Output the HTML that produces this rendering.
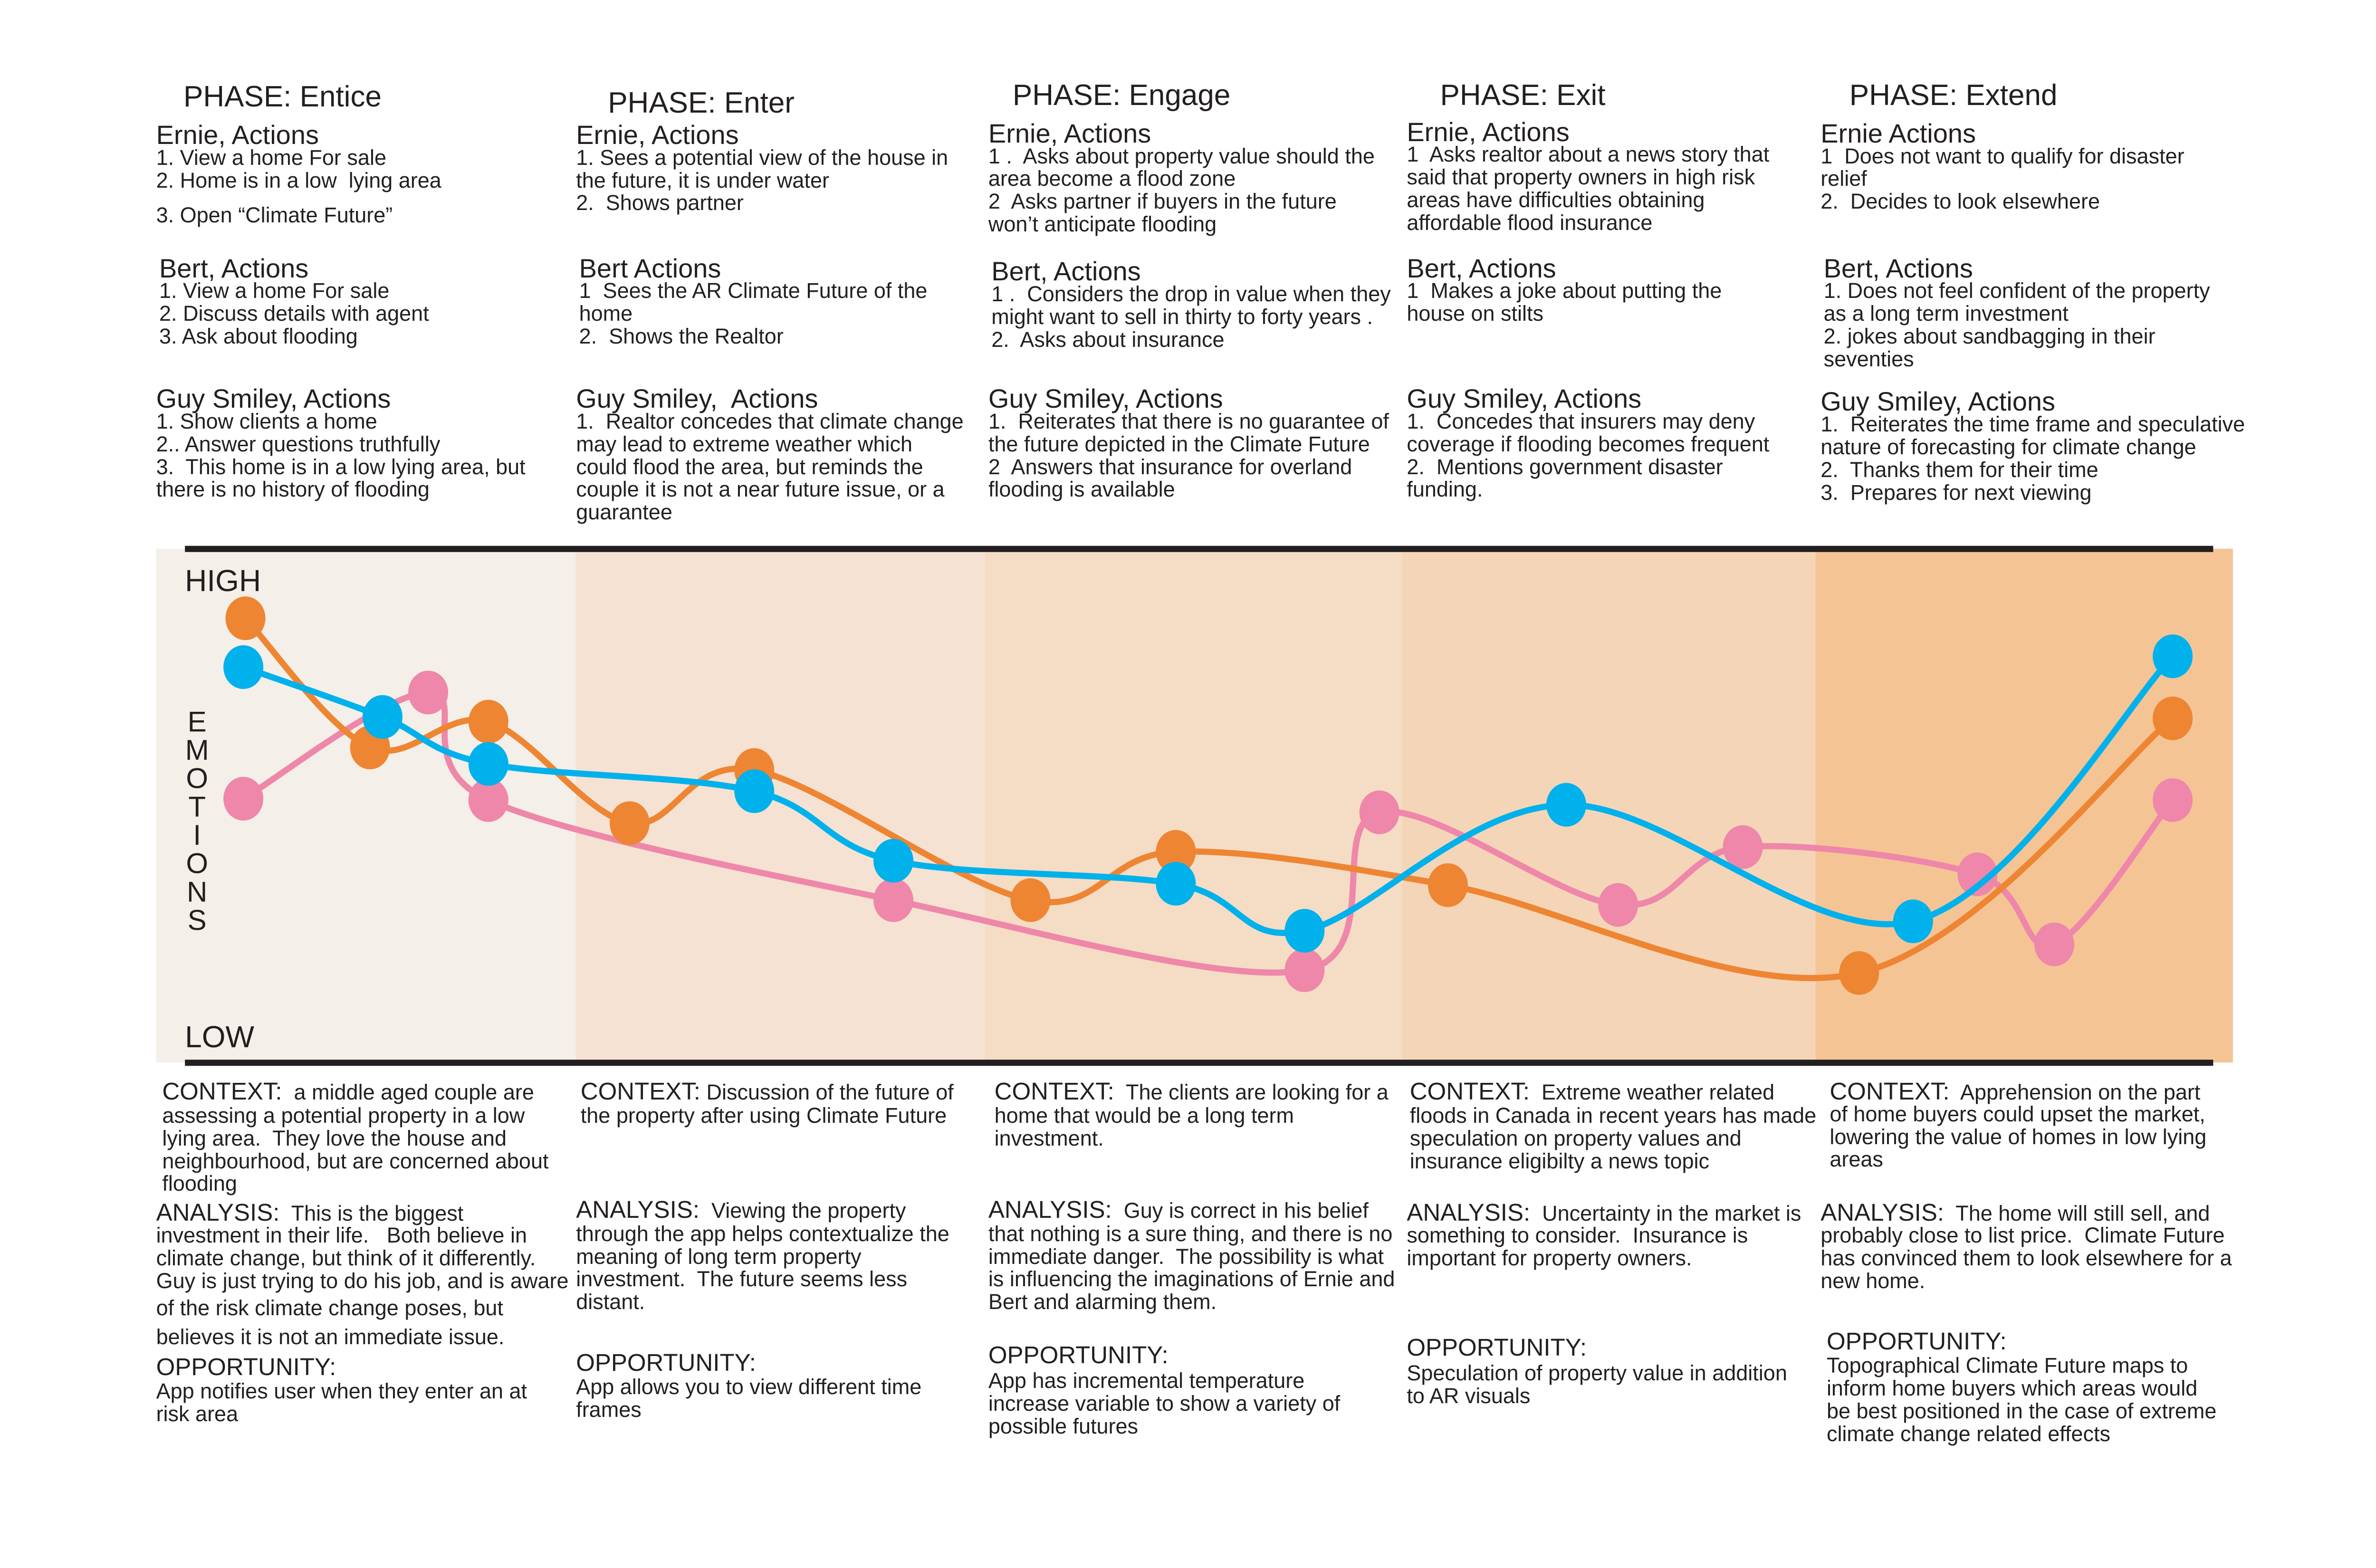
<!DOCTYPE html>
<html><head><meta charset="utf-8">
<style>
html,body{margin:0;padding:0;background:#fff;}
#page{position:relative;width:5100px;height:3300px;overflow:hidden;background:#fff;font-family:"Liberation Sans",sans-serif;color:#231f20;}
.t{position:absolute;white-space:pre;line-height:50px;height:50px;}
.ph{font-size:62px;}
.hd{font-size:56px;}
.bd{font-size:45px;}
.bb{font-size:45px;}
.bb span{font-size:51px;}
svg{position:absolute;left:0;top:0;}
</style></head>
<body>
<div id="page">
<svg id="chart" width="5100" height="3300"></svg>
</div>
<script>
// ---------- chart data ----------
const seriesNames = ["ernie", "bert", "guy"];
const blueT   = [4.2, 10.9, 16, 28.8, 35.5, 49.1, 55.3, 67.9, 84.6, 97.1];
const blueV   = [80.6, 70, 60, 54.2, 39.4, 34.5, 24.5, 51.3, 26.5, 82.9];
const orangeT = [4.3, 10.3, 16, 22.8, 28.8, 42.1, 49.1, 62.2, 82, 97.1];
const orangeV = [91, 63.5, 69, 47.4, 58.7, 31, 41.3, 34.2, 15.5, 69.7];
const pinkT   = [4.2, 13.1, 16, 35.5, 55.3, 58.9, 70.4, 76.4, 87.7, 91.4, 97.1];
const pinkV   = [52.6, 75.2, 52.3, 31, 16.1, 49.7, 30, 42.3, 36.5, 21.6, 52.3];
const phaseBounds = [0, 20.2, 39.9, 60, 79.9, 100];
const phaseColors = ["#f4efe8", "#f5e2d2", "#f5dcc4", "#f5d5b7", "#f5c495"];
const emotionLetters = ["E","M","O","T","I","O","N","S"];

const S = 3.19;
const X0 = 103*S, X1 = 1473*S;
const xScale = t => X0 + (X1 - X0) * t / 100;
const yScale = v => 690*S - (310*S) * v / 100;

const svg = document.getElementById('chart');
const NS = "http://www.w3.org/2000/svg";
function mk(tag, attrs){ const e=document.createElementNS(NS,tag); for(const k in attrs) e.setAttribute(k,attrs[k]); return e; }

// bands
for(let i=0;i<phaseColors.length;i++){
  const r = mk('rect',{x:xScale(phaseBounds[i]),y:362*S,width:xScale(phaseBounds[i+1])-xScale(phaseBounds[i]),height:339*S,fill:phaseColors[i]});
  
  
  svg.appendChild(r);
}
// axis lines
const topLine = mk('rect',{x:122*S,y:362*S-6,width:1338*S,height:13,fill:'#231f20'});


svg.appendChild(topLine);
const botLine = mk('rect',{x:122*S,y:701*S-6,width:1338*S,height:13,fill:'#231f20'});


svg.appendChild(botLine);

// axis labels
function svgText(x,y,txt,size,name){
  const e = mk('text',{x:x,y:y,'font-size':size,'font-family':'Liberation Sans, sans-serif',fill:'#231f20'});
  e.textContent = txt;
  
  
  svg.appendChild(e);
  return e;
}
svgText(122*S, 383*S+22, "HIGH", 64, 'y-axis-high-label');
svgText(122*S, 684*S+22, "LOW", 64, 'y-axis-low-label');
emotionLetters.forEach((l,i)=>{
  const e = svgText(130*S, (476+i*18.7)*S+21, l, 60, 'y-axis-title-letter');
  e.setAttribute('text-anchor','middle');
});

function pathFrom(T,V){
  const p = T.map((t,i)=>[xScale(t),yScale(V[i])]);
  let d = `M${p[0][0]},${p[0][1]}`;
  for(let i=0;i<p.length-1;i++){
    const p0=p[Math.max(i-1,0)], p1=p[i], p2=p[i+1], p3=p[Math.min(i+2,p.length-1)];
    const c1=[p1[0]+(p2[0]-p0[0])/6, p1[1]+(p2[1]-p0[1])/6];
    const c2=[p2[0]-(p3[0]-p1[0])/6, p2[1]-(p3[1]-p1[1])/6];
    d += ` C${c1[0]},${c1[1]} ${c2[0]},${c2[1]} ${p2[0]},${p2[1]}`;
  }
  return d;
}
function drawSeries(T,V,color,name){
  const g = mk('g',{});
  
  
  const path = mk('path',{d:pathFrom(T,V),fill:'none',stroke:color,'stroke-width':13,'stroke-linecap':'round'});
  
  
  g.appendChild(path);
  T.forEach((t,i)=>{
    const c = mk('ellipse',{cx:xScale(t),cy:yScale(V[i]),rx:42,ry:46,fill:color});
    
    
    g.appendChild(c);
  });
  svg.appendChild(g);
}
drawSeries(pinkT,pinkV,'#ee87a9','guy');
drawSeries(orangeT,orangeV,'#ee8533','bert');
drawSeries(blueT,blueV,'#00b1ec','ernie');

// ---------- text ----------
const pageEl = document.getElementById('page');
function line(x,yc,txt,cls,name){
  const d = document.createElement('div');
  d.className = 't '+cls;
  d.style.left = (x*S)+'px';
  d.style.top = (yc*S-25)+'px';
  if(cls==='bb'){
    const m = txt.match(/^(CONTEXT:|ANALYSIS:|OPPORTUNITY:)(.*)$/);
    if(m){ const s=document.createElement('span'); s.textContent=m[1]; d.appendChild(s); d.appendChild(document.createTextNode(m[2])); }
    else d.textContent = txt;
  } else d.textContent = txt;
  
  
  pageEl.appendChild(d);
}
function block(x,y0,hd,lines,nm,step){
  step = step||15;
  line(x,y0,hd,'hd',nm+'-heading');
  lines.forEach((l,i)=>line(x+(l[1]||0),l[2]!==undefined?l[2]:y0+15+i*step,l[0],'bd',nm+'-text'));
}
// phases
line(121,64,"PHASE: Entice",'ph','phase-entice-title');
line(401,68,"PHASE: Enter",'ph','phase-enter-title');
line(668,63,"PHASE: Engage",'ph','phase-engage-title');
line(950,63,"PHASE: Exit",'ph','phase-exit-title');
line(1220,63,"PHASE: Extend",'ph','phase-extend-title');

// col1
block(103,89,"Ernie, Actions",[["1. View a home For sale"],["2. Home is in a low  lying area"],["3. Open “Climate Future”",0,142]],'entice-ernie');
block(105,177,"Bert, Actions",[["1. View a home For sale"],["2. Discuss details with agent"],["3. Ask about flooding"]],'entice-bert');
block(103,263,"Guy Smiley, Actions",[["1. Show clients a home"],["2.. Answer questions truthfully"],["3.  This home is in a low lying area, but"],["there is no history of flooding"]],'entice-guy');
// col2
block(380,89,"Ernie, Actions",[["1. Sees a potential view of the house in"],["the future, it is under water"],["2.  Shows partner"]],'enter-ernie');
block(382,177,"Bert Actions",[["1  Sees the AR Climate Future of the"],["home"],["2.  Shows the Realtor"]],'enter-bert');
block(380,263,"Guy Smiley,  Actions",[["1.  Realtor concedes that climate change"],["may lead to extreme weather which"],["could flood the area, but reminds the"],["couple it is not a near future issue, or a"],["guarantee"]],'enter-guy');
// col3
block(652,88,"Ernie, Actions",[["1 .  Asks about property value should the"],["area become a flood zone"],["2  Asks partner if buyers in the future"],["won’t anticipate flooding"]],'engage-ernie');
block(654,179,"Bert, Actions",[["1 .  Considers the drop in value when they"],["might want to sell in thirty to forty years ."],["2.  Asks about insurance"]],'engage-bert');
block(652,263,"Guy Smiley, Actions",[["1.  Reiterates that there is no guarantee of"],["the future depicted in the Climate Future"],["2  Answers that insurance for overland"],["flooding is available"]],'engage-guy');
// col4
block(928,87,"Ernie, Actions",[["1  Asks realtor about a news story that"],["said that property owners in high risk"],["areas have difficulties obtaining"],["affordable flood insurance"]],'exit-ernie');
block(928,177,"Bert, Actions",[["1  Makes a joke about putting the"],["house on stilts"]],'exit-bert');
block(928,263,"Guy Smiley, Actions",[["1.  Concedes that insurers may deny"],["coverage if flooding becomes frequent"],["2.  Mentions government disaster"],["funding."]],'exit-guy');
// col5
block(1201,88,"Ernie Actions",[["1  Does not want to qualify for disaster"],["relief"],["2.  Decides to look elsewhere"]],'extend-ernie');
block(1203,177,"Bert, Actions",[["1. Does not feel confident of the property"],["as a long term investment"],["2. jokes about sandbagging in their"],["seventies"]],'extend-bert');
block(1201,265,"Guy Smiley, Actions",[["1.  Reiterates the time frame and speculative"],["nature of forecasting for climate change"],["2.  Thanks them for their time"],["3.  Prepares for next viewing"]],'extend-guy');

// bottom
function para(x,lines,nm){ lines.forEach(l=>line(l[2]!==undefined?l[2]:x,l[1],l[0],'bb',nm)); }
para(107,[["CONTEXT:  a middle aged couple are",720],["assessing a potential property in a low",736],["lying area.  They love the house and",751],["neighbourhood, but are concerned about",766],["flooding",781]],'entice-context');
para(103,[["ANALYSIS:  This is the biggest",800],["investment in their life.   Both believe in",815],["climate change, but think of it differently.",830],["Guy is just trying to do his job, and is aware",845],["of the risk climate change poses, but",863],["believes it is not an immediate issue.",882]],'entice-analysis');
para(103,[["OPPORTUNITY:",902],["App notifies user when they enter an at",918],["risk area",933]],'entice-opportunity');

para(383,[["CONTEXT: Discussion of the future of",720],["the property after using Climate Future",736]],'enter-context');
para(380,[["ANALYSIS:  Viewing the property",798],["through the app helps contextualize the",814],["meaning of long term property",829],["investment.  The future seems less",844],["distant.",859]],'enter-analysis');
para(380,[["OPPORTUNITY:",899],["App allows you to view different time",915],["frames",930]],'enter-opportunity');

para(656,[["CONTEXT:  The clients are looking for a",720],["home that would be a long term",736],["investment.",751]],'engage-context');
para(652,[["ANALYSIS:  Guy is correct in his belief",798],["that nothing is a sure thing, and there is no",814],["immediate danger.  The possibility is what",829],["is influencing the imaginations of Ernie and",844],["Bert and alarming them.",859]],'engage-analysis');
para(652,[["OPPORTUNITY:",894],["App has incremental temperature",911],["increase variable to show a variety of",926],["possible futures",941]],'engage-opportunity');

para(930,[["CONTEXT:  Extreme weather related",720],["floods in Canada in recent years has made",736],["speculation on property values and",751],["insurance eligibilty a news topic",766]],'exit-context');
para(928,[["ANALYSIS:  Uncertainty in the market is",800],["something to consider.  Insurance is",815],["important for property owners.",830]],'exit-analysis');
para(928,[["OPPORTUNITY:",889],["Speculation of property value in addition",906],["to AR visuals",921]],'exit-opportunity');

para(1207,[["CONTEXT:  Apprehension on the part",720],["of home buyers could upset the market,",735],["lowering the value of homes in low lying",750],["areas",765]],'extend-context');
para(1201,[["ANALYSIS:  The home will still sell, and",800],["probably close to list price.  Climate Future",815],["has convinced them to look elsewhere for a",830],["new home.",845]],'extend-analysis');
para(1205,[["OPPORTUNITY:",885],["Topographical Climate Future maps to",901],["inform home buyers which areas would",916],["be best positioned in the case of extreme",931],["climate change related effects",946]],'extend-opportunity');
</script>
</body></html>
